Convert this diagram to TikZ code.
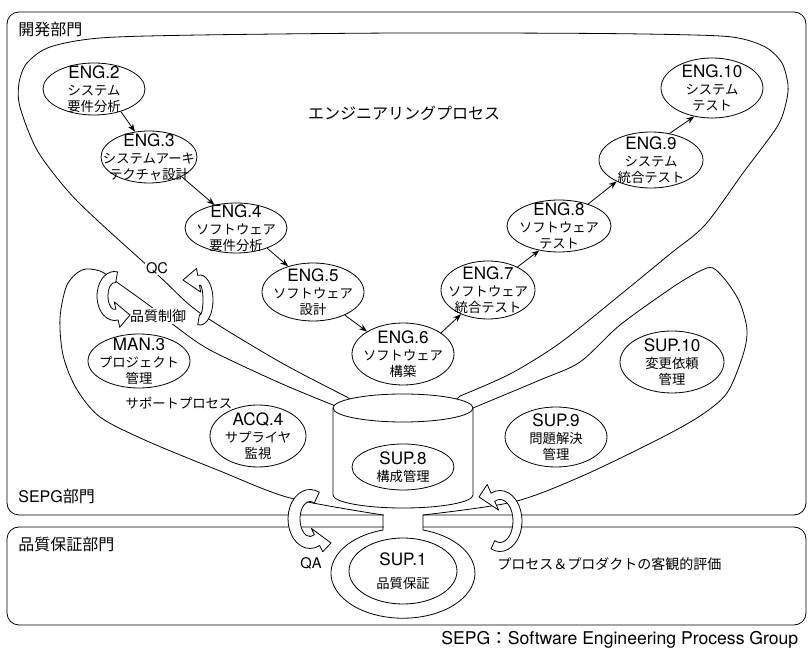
\documentclass[tikz,border=0pt]{standalone}
\usepackage{fontspec}
\setmainfont{Noto Sans CJK JP}
\newfontfamily\lat{TeX Gyre Heros}
\usetikzlibrary{shapes.geometric,arrows.meta,calc}

\newcommand\fatarc[9]{%
 \pgfmathsetmacro\faA{#3+#5}\pgfmathsetmacro\faB{#4+#5}%
 \pgfmathsetmacro\faC{#3-#5}\pgfmathsetmacro\faD{#4-#5}%
 \pgfmathsetmacro\faE{#3+#8}\pgfmathsetmacro\faF{#4+#8}%
 \pgfmathsetmacro\faG{#3-#8}\pgfmathsetmacro\faH{#4-#8}%
 \draw[fat] ({#1+\faA*cos(#6)},{#2+\faB*sin(#6)})
   arc[start angle=#6, end angle=#7, x radius=\faA, y radius=\faB]
   -- ({#1+\faE*cos(#7)},{#2+\faF*sin(#7)}) -- (#9)
   -- ({#1+\faG*cos(#7)},{#2+\faH*sin(#7)})
   -- ({#1+\faC*cos(#7)},{#2+\faD*sin(#7)})
   arc[start angle=#7, end angle=#6, x radius=\faC, y radius=\faD] -- cycle;}

\newcommand\cd[1]{{\lat\fontsize{12.8}{14}\selectfont #1}}
\newcommand\proc[6]{%
  \node[proc, minimum width=#4*1.5pt, minimum height=#5*1.5pt] (#1) at (#2,#3) {};
  \node[ptext] (#1t) at (#2,#3) {#6};}

\begin{document}
\begin{tikzpicture}[x=0.75pt,y=-0.75pt, line width=0.6pt,
  box/.style={draw, rounded corners=9pt},
  proc/.style={ellipse, draw, fill=white, inner sep=0pt},
  ptext/.style={align=center, inner sep=0pt, font=\fontsize{10}{12}\selectfont},
  conn/.style={-{Stealth[length=6pt,width=4.5pt]}},
  fat/.style={draw, fill=white, line join=round},
  dept/.style={inner sep=0pt, anchor=west, font=\fontsize{12}{14}\selectfont},
  lab/.style={inner sep=0pt, font=\fontsize{10.5}{12}\selectfont},
  wlab/.style={fill=white, inner sep=1pt, font=\fontsize{10.5}{12}\selectfont}]
\useasboundingbox (0,0) rectangle (808,648);

% department boxes
\draw[box] (7,12) rectangle (806,515);
\draw[box] (7,527) rectangle (806,625);
\fill[white] (383.5,509) rectangle (422.5,532);

% engineering process outline
\draw (365,410) -- plot[smooth, tension=0.5] coordinates {(347,397) (280,362) (200,313) (160,277) (97,220) (67,190) (37,150) (20,107) (19,83) (27,63) (50,47) (100,38) (200,35) (400,33) (600,33.5) (710,35.5) (743,39) (767,48) (782,63) (788,85) (786,103) (777,127) (743,173) (705,225) (670,254) (620,295) (560,343) (510,374) (460,396)} -- (445,410) -- cycle;

% support process outline
\draw (345,414) -- plot[smooth, tension=0.5] coordinates {(333,405) (280,383) (210,350) (175,326) (150,306) (118,283) (100,271) (82,270) (67,285) (60,318) (63,355) (76,388) (100,417) (147,441) (220,471) (290,498) (383,515)}
  -- (383,530) arc[start angle=253.9, end angle=-73.9, x radius=72, y radius=45]
  -- plot[smooth, tension=0.5] coordinates {(423,515) (513,502) (580,477) (657,440) (700,416) (727,393) (743,355) (747,330) (740,303) (727,282) (713,268) (700,271) (673,287) (620,325) (580,362) (540,380) (473,408)} -- (461,414) -- cycle;

% cylinder (configuration repository)
\draw[fill=white] (333,408) -- (333,495) arc[start angle=180, end angle=0, x radius=70, y radius=13]
  -- (473,408) arc[start angle=0, end angle=-180, x radius=70, y radius=14] -- cycle;
\draw (333,408) arc[start angle=180, end angle=0, x radius=70, y radius=14];

% process nodes
\proc{eng2}{94}{89}{51}{26}{\cd{ENG.2}\\[1pt] システム\\ 要件分析}
\proc{eng3}{149}{157}{48}{26}{\cd{ENG.3}\\[1pt] システムアーキ\\ テクチャ設計}
\proc{eng4}{236}{228}{51}{25}{\cd{ENG.4}\\[1pt] ソフトウェア\\ 要件分析}
\proc{eng5}{313}{292}{51}{29}{\cd{ENG.5}\\[1pt] ソフトウェア\\ 設計}
\proc{eng6}{403}{354}{51}{31}{\cd{ENG.6}\\[1pt] ソフトウェア\\ 構築}
\proc{eng7}{488}{290}{47}{29}{\cd{ENG.7}\\[1pt] ソフトウェア\\ 統合テスト}
\proc{eng8}{559}{226}{52}{26}{\cd{ENG.8}\\[1pt] ソフトウェア\\ テスト}
\proc{eng9}{651}{160}{52}{28}{\cd{ENG.9}\\[1pt] システム\\ 統合テスト}
\proc{eng10}{712}{88}{51}{30}{\cd{ENG.10}\\[1pt] システム\\ テスト}
\proc{man3}{139}{361}{51}{27}{\cd{MAN.3}\\[1pt] プロジェクト\\ 管理}
\proc{acq4}{258}{436}{48}{31}{\cd{ACQ.4}\\[1pt] サプライヤ\\ 監視}
\proc{sup9}{556}{437}{51}{30}{\cd{SUP.9}\\[1pt] 問題解決\\ 管理}
\proc{sup10}{672}{362}{52}{31}{\cd{SUP.10}\\[1pt] 変更依頼\\ 管理}
\proc{sup8}{403}{467}{51}{23}{\cd{SUP.8}\\[1pt] 構成管理}
\proc{sup1}{403}{571}{54}{33}{\cd{SUP.1}\\[5pt] 品質保証}

% engineering flow
\draw[conn] (eng2.-40) -- (eng3.119);
\draw[conn] (eng3.-31) -- (eng4.133);
\draw[conn] (eng4.-33) -- (eng5.134);
\draw[conn] (eng5.-36) -- (eng6.148);
\draw[conn] (eng6.29) -- (eng7.-138);
\draw[conn] (eng7.38) -- (eng8.-129);
\draw[conn] (eng8.37) -- (eng9.-148);
\draw[conn] (eng9.55) -- (eng10.-122);

% labels
\node[dept] (d1) at (18,29) {開発部門};
\node[dept] (d2) at (18,496) {{\lat SEPG}部門};
\node[dept] (d3) at (18,544) {品質保証部門};
\node[inner sep=0pt, font=\fontsize{12}{14}\selectfont] (engp) at (404,113) {エンジニアリングプロセス};
\node[lab, font=\fontsize{10}{12}\selectfont] (supp) at (179,403) {サポートプロセス};
\node[wlab, font=\lat\fontsize{11}{12}\selectfont] (qc) at (157,268) {QC};
\node[wlab] (qcl) at (158,316) {品質制御};
\node[lab, font=\lat\fontsize{11}{12}\selectfont] (qa) at (311,563) {QA};
\node[lab, anchor=west] (eval) at (497,564) {プロセス＆プロダクトの客観的評価};
\node[inner sep=0pt, anchor=base west, font=\fontsize{13.2}{15}\selectfont] (note) at (441,645) {{\lat SEPG}：{\lat Software Engineering Process Group}};

% big curved arrows
\fatarc{114.5}{296}{12}{19}{5.5}{280}{78}{13}{130,315}
\fatarc{200}{300}{8}{20}{5}{100}{-100}{12}{183,280}
\fatarc{310}{519}{16}{23.5}{6}{295}{64}{13}{331,543}
\fatarc{500}{521}{17.5}{26}{4.5}{114}{-114}{14}{479,497}
\end{tikzpicture}
\end{document}
